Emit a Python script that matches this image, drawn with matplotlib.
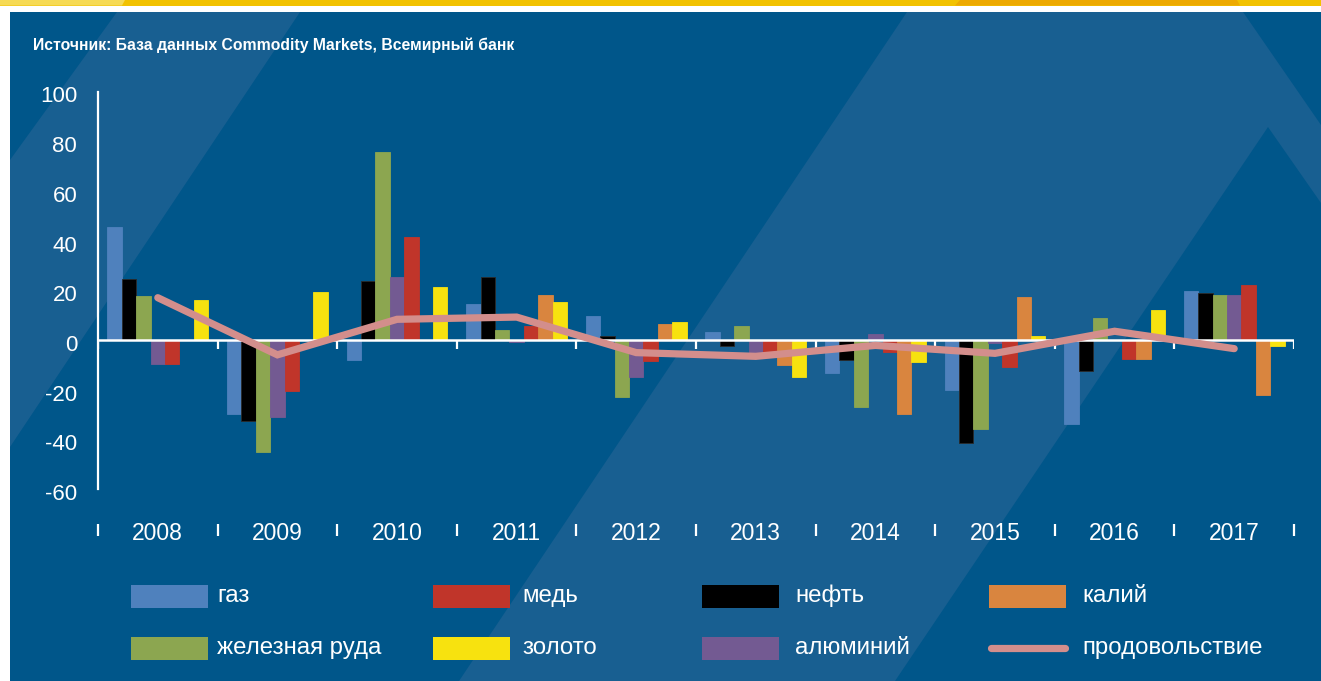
import matplotlib.pyplot as plt
from matplotlib.patches import Polygon, Rectangle
from matplotlib.lines import Line2D
import matplotlib.transforms as mtransforms
import numpy as np

# годы и серии (изменение цен, %)
years = ['2008', '2009', '2010', '2011', '2012', '2013', '2014', '2015', '2016', '2017']
gas = [45.5, -30, -8, 14.3, 9.5, 3.2, -13.5, -20, -34, 19.8]
oil = [24.5, -32.5, 23.8, 25.3, 1.5, -2.3, -8, -41.5, -12.6, 19]
iron_ore = [17.5, -45, 75.6, 4, -23, 5.5, -27, -35.7, 8.7, 18.2]
aluminium = [-9.5, -31, 25.3, -1, -15, -5.2, 2.4, -1.4, 0, 18.2]
copper = [-9.5, -20.5, 41.4, 5.6, -8.6, -5.2, -4.8, -11, -7.8, 22.2]
potash = [0, 0, 0, 18.2, 6.4, -10.2, -30, 17.4, -7.8, -22.2]
gold = [16, 19.2, 21.4, 15.1, 7.2, -15, -8.8, 1.6, 12, -2.3]
food = [17, -6, 8.3, 9.2, -5.1, -6.6, -2.2, -5.4, 3.5, -3.5]

series = [
    ('газ', gas, '#4F81BD'),
    ('нефть', oil, '#000000'),
    ('железная руда', iron_ore, '#8CA650'),
    ('алюминий', aluminium, '#735A92'),
    ('медь', copper, '#C0352A'),
    ('калий', potash, '#D9853F'),
    ('золото', gold, '#F7E20F'),
]
food_color = '#D38E8C'
dark_blue = '#00568A'
light_blue = '#185F91'

plt.rcParams['font.family'] = ['Liberation Sans', 'DejaVu Sans']

fig = plt.figure(figsize=(13.21, 6.81), dpi=100)
fig.patch.set_facecolor('white')

# фон в пикселях
bg = fig.add_axes([0, 0, 1, 1], zorder=0)
bg.set_xlim(0, 1321)
bg.set_ylim(681, 0)
bg.axis('off')
bg.add_patch(Rectangle((10, 12), 1311, 669, color=dark_blue, lw=0))
bg.add_patch(Polygon([(117, 12), (300, 12), (10, 447), (10, 160)], closed=True, color=light_blue, lw=0))
bg.add_patch(Polygon([(907, 12), (1243, 12), (1321, 125), (1321, 203), (1268, 127), (895, 681), (459, 681)],
                     closed=True, color=light_blue, lw=0))
# жёлтая полоса сверху
bg.add_patch(Rectangle((0, 0), 1321, 5.5, color='#F2C200', lw=0))
bg.add_patch(Polygon([(0, 0), (125, 0), (122, 5.5), (0, 5.5)], closed=True, color='#F6DA55', lw=0))
bg.add_patch(Polygon([(960, 0), (1237, 0), (1240, 5.5), (955, 5.5)], closed=True, color='#EDA900', lw=0))

bg.text(33, 45, 'Источник: База данных Commodity Markets, Всемирный банк', color='white',
        fontsize=11.3, fontweight='bold', va='center', ha='left')

# основной график
ax = fig.add_axes([98 / 1321, (681 - 489) / 681, (1294 - 98) / 1321, 397.5 / 681], zorder=2)
ax.set_facecolor('none')

x = np.arange(len(years))
n = len(series)
w = 0.1205
for i, (name, vals, col) in enumerate(series):
    off = (i - (n - 1) / 2) * w
    edge = '#2a2a2a' if col == '#000000' else col
    ax.bar(x + off, vals, width=w, color=col, edgecolor=edge, linewidth=0.6, zorder=2)

ax.axhline(0, color='white', lw=1.8, zorder=3)
ax.plot(x, food, color=food_color, lw=5.2, solid_capstyle='round', solid_joinstyle='miter', zorder=4)

ax.set_xlim(-0.5, len(years) - 0.5)
ax.set_ylim(-60, 100)
ax.set_yticks(range(-60, 101, 20))
ax.set_yticklabels([str(v) for v in range(-60, 101, 20)])
ax.set_xticks(x)
ax.set_xticklabels(years)
ax.tick_params(axis='y', length=0, pad=15, colors='white', labelsize=16)
ax.tick_params(axis='x', length=0, pad=23.5, colors='white', labelsize=16.5)
shift = mtransforms.ScaledTranslation(0, -0.03, fig.dpi_scale_trans)
for lab in ax.get_yticklabels():
    lab.set_transform(lab.get_transform() + shift)
for s in ['top', 'right', 'bottom']:
    ax.spines[s].set_visible(False)
ax.spines['left'].set_color('white')
ax.spines['left'].set_linewidth(1.6)

# деления между годами
bounds = np.arange(len(years) + 1) - 0.5
ax.vlines(bounds, 0, -3.6, color='white', lw=1.6, zorder=3)
ax.vlines(bounds, -0.088, -0.118, color='white', lw=1.6, transform=ax.get_xaxis_transform(), clip_on=False)

# легенда
legend_rows = [
    [('газ', '#4F81BD'), ('медь', '#C0352A'), ('нефть', '#000000'), ('калий', '#D9853F')],
    [('железная руда', '#8CA650'), ('золото', '#F7E20F'), ('алюминий', '#735A92'), ('продовольствие', None)],
]
col_x = [131, 433, 702, 989]
text_x = [217, 522, 795, 1082]
row_y = [596, 648]
for r, row in enumerate(legend_rows):
    for c, (label, col) in enumerate(row):
        x0 = col_x[c]
        y0 = row_y[r]
        if col is None:
            bg.add_line(Line2D([x0 + 2, x0 + 76], [y0, y0], color=food_color, lw=5.2, solid_capstyle='round'))
        else:
            bg.add_patch(Rectangle((x0, y0 - 11.5), 77, 23, color=col, lw=0))
        bg.text(text_x[c], y0, label, color='white', fontsize=17.3, va='center', ha='left')

fig.savefig('out.png', dpi=100, facecolor=fig.get_facecolor())
